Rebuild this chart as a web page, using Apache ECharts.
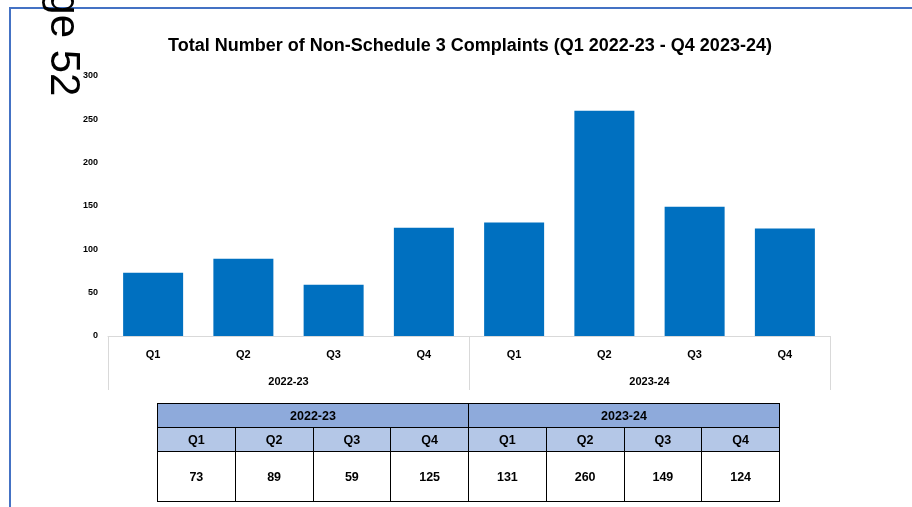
<!DOCTYPE html>
<html>
<head>
<meta charset="utf-8">
<script src="https://cdn.jsdelivr.net/npm/echarts@6/dist/echarts.min.js"></script>
<style>
  html, body { margin: 0; padding: 0; background: #fff; }
  body { width: 912px; height: 507px; position: relative; overflow: hidden; font-family: 'Liberation Sans', Arial, sans-serif; }
  #chart { position: absolute; left: 0; top: 0; width: 912px; height: 507px; }
  .frame-top { position: absolute; left: 9px; top: 7px; width: 903px; height: 2px; background: #4472c4; }
  .frame-left { position: absolute; left: 9px; top: 7px; width: 2px; height: 500px; background: #4472c4; }
  .page-no { position: absolute; left: 86px; top: -60px; font-size: 42px; line-height: 42px; white-space: nowrap;
    transform-origin: left top; transform: rotate(90deg); color: #000; }
  #table { position: absolute; left: 157px; top: 403px; width: 623px; border-collapse: collapse; table-layout: fixed;
    font-size: 12.5px; font-weight: bold; color: #000; text-align: center; }
  #table td { border: 1.5px solid #000; padding: 0; }
  #table tr.year td { background: #8eaadb; height: 23px; }
  #table tr.quarter td { background: #b4c7e7; height: 23px; }
  #table tr.value td { background: #fff; height: 49px; }
</style>
</head>
<body>
<div id="chart"></div>
<div class="frame-top"></div>
<div class="frame-left"></div>
<div class="page-no">Page 52</div>
<table id="table"></table>
<script>
const years = ['2022-23', '2023-24'];
const quarters = ['Q1', 'Q2', 'Q3', 'Q4', 'Q1', 'Q2', 'Q3', 'Q4'];
const complaints = [73, 89, 59, 125, 131, 260, 149, 124];
const yTicks = [0, 50, 100, 150, 200, 250, 300];

const chart = echarts.init(document.getElementById('chart'));

chart.setOption({
  animation: false,
  title: {
    text: 'Total Number of Non-Schedule 3 Complaints (Q1 2022-23 - Q4 2023-24)',
    left: 465,
    top: 32,
    textAlign: 'center',
    textStyle: { fontFamily: 'Liberation Sans', fontSize: 18, fontWeight: 'bold', color: '#000' },
  },
  grid: { left: 108, right: 82, top: 76, bottom: 171 },
  xAxis: [
    {
      type: 'category',
      data: quarters,
      axisLine: { lineStyle: { color: '#d9d9d9', width: 1 } },
      axisTick: { show: false },
      axisLabel: { margin: 13, fontFamily: 'Liberation Sans', fontSize: 11, fontWeight: 'bold', color: '#000' },
    },
    {
      type: 'category',
      data: years,
      position: 'bottom',
      axisLine: { show: false },
      axisTick: { show: true, length: 54, lineStyle: { color: '#d9d9d9', width: 1 } },
      axisLabel: { margin: 40, fontFamily: 'Liberation Sans', fontSize: 11, fontWeight: 'bold', color: '#000' },
    },
  ],
  yAxis: {
    type: 'value',
    min: yTicks[0],
    max: yTicks[yTicks.length - 1],
    interval: 50,
    axisLine: { show: false },
    axisTick: { show: false },
    splitLine: { show: false },
    axisLabel: { margin: 10, fontFamily: 'Liberation Sans', fontSize: 9, fontWeight: 'bold', color: '#000' },
  },
  series: [
    {
      type: 'bar',
      data: complaints,
      barWidth: 60,
      itemStyle: { color: '#0070c0' },
    },
  ],
});

// data table under the chart
function buildTable() {
  const table = document.getElementById('table');
  let html = '<tr class="year">';
  years.forEach((y) => { html += `<td colspan="4">${y}</td>`; });
  html += '</tr><tr class="quarter">';
  quarters.forEach((q) => { html += `<td>${q}</td>`; });
  html += '</tr><tr class="value">';
  complaints.forEach((v) => { html += `<td>${v}</td>`; });
  html += '</tr>';
  table.innerHTML = html;
}

buildTable();
</script>
</body>
</html>
